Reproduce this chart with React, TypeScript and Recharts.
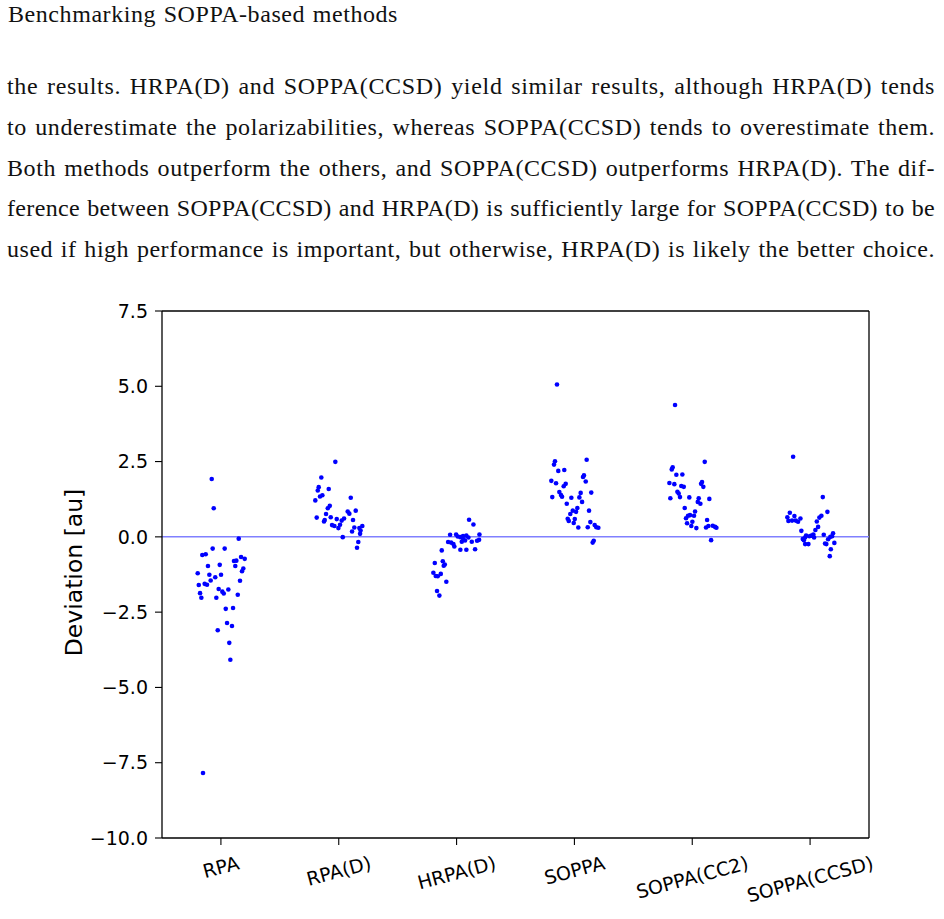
import React from "react";
import {
  ScatterChart,
  Scatter,
  XAxis,
  YAxis,
  ReferenceLine,
  Label,
} from "recharts";

const METHODS = ["RPA", "RPA(D)", "HRPA(D)", "SOPPA", "SOPPA(CC2)", "SOPPA(CCSD)"];
const Y_TICKS = [-10, -7.5, -5, -2.5, 0, 2.5, 5, 7.5];
const X_TICKS = [0, 1, 2, 3, 4, 5];

// [jitter around the category, deviation in au]
const RPA: [number, number][] = [
  [-0.078, 1.92], [-0.061, 0.95], [0.151, -0.06], [-0.07, -0.39], [0.032, -0.39],
  [-0.158, -0.6], [-0.129, -0.58], [0.171, -0.67], [0.202, -0.73], [0.111, -0.8],
  [0.131, -0.79], [-0.11, -0.97], [-0.01, -0.93], [0.122, -0.97], [0.19, -1.05],
  [0.179, -1.14], [-0.197, -1.21], [-0.098, -1.26], [0.001, -1.26], [-0.048, -1.34],
  [-0.087, -1.45], [0.162, -1.46], [-0.188, -1.6], [-0.138, -1.56], [-0.118, -1.59],
  [-0.019, -1.73], [0.012, -1.82], [0.024, -1.88], [0.063, -1.75], [-0.177, -1.87],
  [-0.166, -2.02], [-0.039, -2.02], [0.143, -1.92], [0.041, -2.39], [0.103, -2.36],
  [0.052, -2.86], [0.094, -2.96], [-0.027, -3.1], [0.071, -3.52], [0.08, -4.08],
  [-0.152, -7.84],
];

const RPA_D: [number, number][] = [
  [-0.029, 2.49], [-0.148, 1.97], [-0.17, 1.65], [-0.178, 1.54], [-0.085, 1.59],
  [-0.139, 1.38], [-0.159, 1.34], [-0.199, 1.21], [0.102, 1.3], [-0.076, 1.03],
  [-0.093, 0.95], [-0.108, 0.76], [-0.187, 0.64], [-0.119, 0.56], [-0.125, 0.51],
  [-0.068, 0.65], [-0.017, 0.59], [0.076, 0.84], [0.09, 0.77], [0.144, 0.87],
  [0.045, 0.61], [0.025, 0.54], [0.121, 0.56], [-0.057, 0.39], [-0.037, 0.36],
  [0.011, 0.4], [-0.003, 0.29], [0.132, 0.31], [0.175, 0.29], [0.2, 0.36],
  [0.185, 0.21], [0.113, 0.18], [0.181, 0.1], [0.034, -0.01], [0.166, -0.17],
  [0.155, -0.36],
];

const HRPA_D: [number, number][] = [
  [0.106, 0.57], [0.143, 0.41], [-0.055, 0.07], [-0.004, 0.08], [0.01, 0.01],
  [0.032, -0.01], [0.055, 0.03], [0.083, 0.04], [0.1, -0.02], [0.194, 0.08],
  [0.191, -0.1], [0.174, -0.13], [0.129, -0.16], [0.072, -0.12], [0.044, -0.16],
  [0.058, -0.08], [-0.072, -0.17], [-0.047, -0.19], [-0.027, -0.24], [-0.019, -0.32],
  [0.032, -0.43], [0.083, -0.43], [0.157, -0.41], [-0.126, -0.45], [-0.185, -0.87],
  [-0.117, -0.81], [-0.1, -0.92], [-0.109, -0.96], [-0.197, -1.19], [-0.177, -1.3],
  [-0.16, -1.31], [-0.134, -1.23], [-0.087, -1.49], [-0.166, -1.8], [-0.146, -1.95],
];

const SOPPA: [number, number][] = [
  [-0.148, 5.06], [-0.165, 2.51], [-0.173, 2.4], [0.104, 2.56], [-0.137, 2.19],
  [-0.086, 2.22], [0.081, 2.04], [0.073, 1.99], [0.096, 1.84], [-0.196, 1.86],
  [-0.156, 1.78], [-0.074, 1.76], [-0.091, 1.68], [-0.128, 1.49], [-0.114, 1.39],
  [-0.105, 1.33], [-0.188, 1.32], [-0.026, 1.3], [0.042, 1.31], [0.053, 1.46],
  [0.143, 1.47], [0.065, 1.16], [-0.065, 1.1], [0.025, 0.96], [-0.014, 0.87],
  [0.014, 0.83], [-0.035, 0.76], [0.124, 0.87], [-0.057, 0.6], [-0.048, 0.53],
  [0.003, 0.59], [-0.006, 0.46], [0.033, 0.31], [0.113, 0.32], [0.135, 0.49],
  [0.172, 0.39], [0.186, 0.32], [0.203, 0.3], [0.164, -0.13], [0.155, -0.19],
];

const SOPPA_CC2: [number, number][] = [
  [-0.146, 4.38], [0.106, 2.49], [-0.166, 2.31], [-0.174, 2.24], [-0.135, 2.06],
  [-0.084, 2.07], [0.083, 1.82], [0.075, 1.76], [0.094, 1.66], [-0.194, 1.79],
  [-0.152, 1.75], [-0.093, 1.69], [-0.072, 1.66], [-0.126, 1.5], [-0.115, 1.44],
  [-0.186, 1.28], [-0.104, 1.32], [-0.025, 1.31], [0.055, 1.28], [0.047, 1.16],
  [0.069, 1.1], [0.145, 1.26], [-0.064, 0.96], [0.024, 0.84], [-0.019, 0.72],
  [-0.036, 0.7], [0.015, 0.7], [-0.053, 0.62], [0.001, 0.5], [-0.044, 0.45],
  [0.126, 0.56], [-0.008, 0.36], [0.035, 0.29], [0.117, 0.31], [0.137, 0.36],
  [0.174, 0.37], [0.194, 0.33], [0.205, 0.3], [0.16, -0.11],
];

const SOPPA_CCSD: [number, number][] = [
  [-0.144, 2.66], [0.108, 1.32], [0.147, 0.83], [-0.172, 0.8], [-0.133, 0.69],
  [-0.193, 0.65], [-0.082, 0.61], [0.096, 0.7], [0.079, 0.64], [-0.184, 0.53],
  [-0.153, 0.54], [-0.121, 0.54], [-0.102, 0.5], [0.057, 0.51], [0.068, 0.33],
  [0.045, 0.23], [-0.074, 0.2], [0.028, 0.08], [0.011, 0.04], [-0.006, 0.02],
  [-0.034, 0.04], [0.116, 0.07], [0.195, 0.12], [0.187, 0.02], [-0.042, -0.02],
  [-0.053, -0.11], [-0.062, -0.07], [0.034, -0.02], [0.153, -0.08], [0.172, 0.0],
  [0.206, -0.2], [0.127, -0.22], [0.138, -0.24], [-0.042, -0.24], [-0.014, -0.24],
  [0.176, -0.41], [0.167, -0.64],
];

const SERIES = [RPA, RPA_D, HRPA_D, SOPPA, SOPPA_CC2, SOPPA_CCSD];

const HEADER = "Benchmarking SOPPA-based methods";
const PARAGRAPH = [
  "the results. HRPA(D) and SOPPA(CCSD) yield similar results, although HRPA(D) tends",
  "to underestimate the polarizabilities, whereas SOPPA(CCSD) tends to overestimate them.",
  "Both methods outperform the others, and SOPPA(CCSD) outperforms HRPA(D). The dif-",
  "ference between SOPPA(CCSD) and HRPA(D) is sufficiently large for SOPPA(CCSD) to be",
  "used if high performance is important, but otherwise, HRPA(D) is likely the better choice.",
];

const points = SERIES.flatMap((pts, i) => pts.map(([dx, y]) => ({ x: i + dx, y })));

const AXIS_FONT = "'DejaVu Sans', sans-serif";
const TICK_SIZE = 19;
const BODY_FONT = "'Liberation Serif'";
const BODY_SIZE = 24;

let measureCtx: CanvasRenderingContext2D | null = null;
function textWidth(s: string, font: string) {
  if (!measureCtx) measureCtx = document.createElement("canvas").getContext("2d");
  if (!measureCtx) return s.length * 10;
  measureCtx.font = font;
  return measureCtx.measureText(s).width;
}

// spread a line to its target width mostly through letter spacing
function spacingFor(s: string, target: number, share = 0.75) {
  const w = textWidth(s, `${BODY_SIZE}px ${BODY_FONT}`);
  return Math.max(0, ((target - w) * share) / s.length);
}

const fmtY = (v: number) => (v < 0 ? "\u2212" : "") + Math.abs(v).toFixed(1);

// rotated category labels, top of the rotated box hangs just under the tick
function XTick(props: any) {
  const { x, y, payload } = props;
  const label = METHODS[payload.value] ?? "";
  const w = textWidth(label, `${TICK_SIZE}px 'DejaVu Sans'`);
  const h = TICK_SIZE * 1.1;
  const a = (15 * Math.PI) / 180;
  const cy = y + 7 + (w * Math.sin(a) + h * Math.cos(a)) / 2;
  return (
    <text
      x={x}
      y={cy}
      textAnchor="middle"
      dominantBaseline="central"
      fontFamily={AXIS_FONT}
      fontSize={TICK_SIZE}
      fill="#000"
      transform={`rotate(-15 ${x} ${cy})`}
    >
      {label}
    </text>
  );
}

const Dot = (props: any) => <circle cx={props.cx} cy={props.cy} r={2.3} fill="#0000ff" />;

const textLine = (top: number, left: number, width: number, ls: number): React.CSSProperties => ({
  position: "absolute",
  left,
  top,
  width,
  fontFamily: `${BODY_FONT}, serif`,
  fontSize: BODY_SIZE,
  lineHeight: `${BODY_SIZE}px`,
  letterSpacing: ls,
  textAlign: "justify",
  textAlignLast: "justify",
  whiteSpace: "nowrap",
  color: "#111",
});

export default function App() {
  return (
    <div style={{ position: "absolute", left: 0, top: 0, width: 944, height: 919, background: "#fff" }}>
      <div style={textLine(2, 8, 390, spacingFor(HEADER, 390, 0.9))}>{HEADER}</div>
      {PARAGRAPH.map((line, i) => (
        <div key={i} style={textLine(74 + i * 40.75, 7, 928, spacingFor(line, 928))}>
          {line}
        </div>
      ))}
      <div style={{ position: "absolute", left: 0, top: 0 }}>
        <ScatterChart width={944} height={919} margin={{ top: 311, right: 75, bottom: 0, left: 0 }}>
          <XAxis
            type="number"
            dataKey="x"
            domain={[-0.5, 5.5]}
            ticks={X_TICKS}
            allowDataOverflow
            height={81}
            tickSize={7}
            tickMargin={0}
            tick={<XTick />}
            axisLine={{ stroke: "#000", strokeWidth: 1.3 }}
            tickLine={{ stroke: "#000", strokeWidth: 1.1 }}
          />
          <YAxis
            type="number"
            dataKey="y"
            domain={[-10, 7.5]}
            ticks={Y_TICKS}
            allowDataOverflow
            width={162}
            tickSize={7}
            tickMargin={7}
            tickFormatter={fmtY}
            tick={{ fill: "#000", fontSize: TICK_SIZE, fontFamily: AXIS_FONT }}
            axisLine={{ stroke: "#000", strokeWidth: 1.3 }}
            tickLine={{ stroke: "#000", strokeWidth: 1.1 }}
          >
            <Label
              content={(p: any) => {
                const vb = p.viewBox || { x: 0, y: 311, width: 162, height: 527 };
                const lx = vb.x + 74;
                const ly = vb.y + vb.height / 2 - 2;
                return (
                  <text
                    x={lx}
                    y={ly}
                    textAnchor="middle"
                    dominantBaseline="central"
                    fontFamily={AXIS_FONT}
                    fontSize={23.5}
                    fill="#000"
                    transform={`rotate(-90 ${lx} ${ly})`}
                  >
                    Deviation [au]
                  </text>
                );
              }}
            />
          </YAxis>
          <ReferenceLine y={7.5} stroke="#000" strokeWidth={1.3} />
          <ReferenceLine x={5.5} stroke="#000" strokeWidth={1.3} />
          <ReferenceLine y={0} stroke="#8080ff" strokeWidth={1.5} />
          <Scatter data={points} shape={<Dot />} isAnimationActive={false} />
        </ScatterChart>
      </div>
    </div>
  );
}
